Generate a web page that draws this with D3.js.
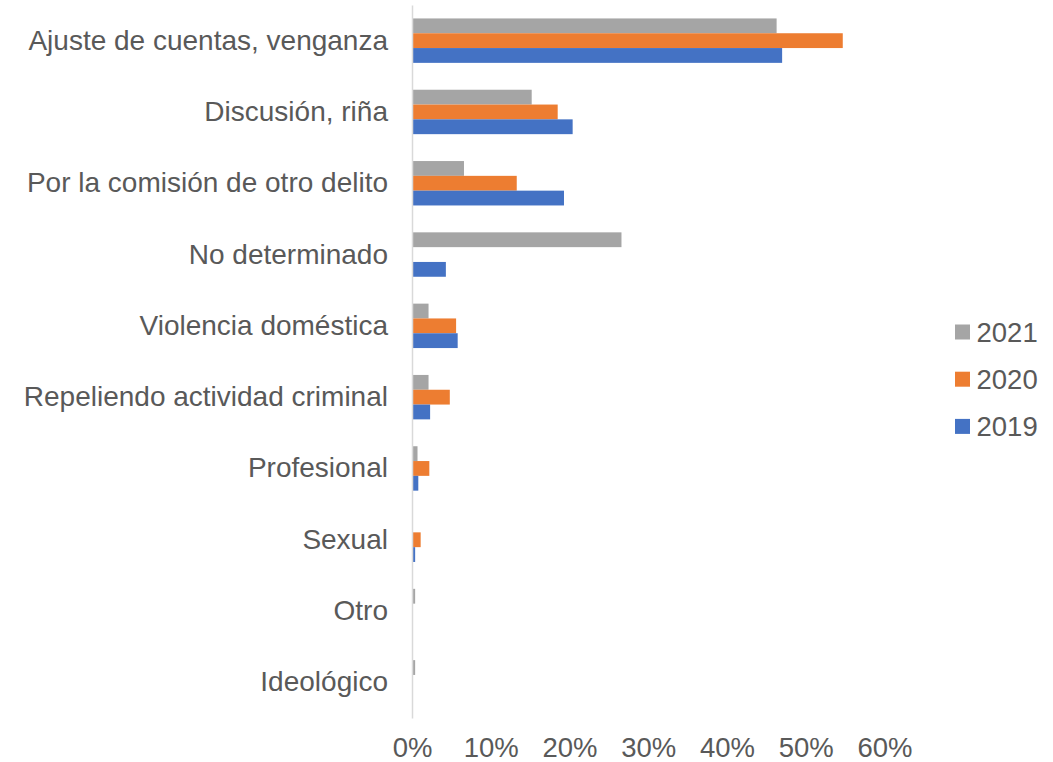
<!DOCTYPE html>
<html>
<head>
<meta charset="utf-8">
<script src="https://cdn.jsdelivr.net/npm/d3@7"></script>
<style>
  body { margin: 0; background: #fff; }
  text { font-family: "Liberation Sans", Arial, sans-serif; fill: #595959; }
</style>
</head>
<body>
<div id="chart"></div>
<script>
// Data (percent)
const categories = [
  "Ajuste de cuentas, venganza",
  "Discusión, riña",
  "Por la comisión de otro delito",
  "No determinado",
  "Violencia doméstica",
  "Repeliendo actividad criminal",
  "Profesional",
  "Sexual",
  "Otro",
  "Ideológico"
];
const years = ["2021", "2020", "2019"];
const values2021 = [46.3, 15.2, 6.6, 26.6, 2.1, 2.1, 0.7, 0, 0.4, 0.4];
const values2020 = [54.7, 18.5, 13.3, 0, 5.6, 4.8, 2.2, 1.1, 0, 0];
const values2019 = [47.0, 20.4, 19.3, 4.3, 5.8, 2.3, 0.8, 0.4, 0, 0];
const xTicks = [0, 10, 20, 30, 40, 50, 60];

const seriesValues = { "2021": values2021, "2020": values2020, "2019": values2019 };
const colors = { "2021": "#A5A5A5", "2020": "#ED7D31", "2019": "#4472C4" };

/*    Constants    */
const width = 1053;
const height = 762;
const fontSize = 27.5;

const svg = d3.select("#chart")
  .append("svg")
    .attr("width", width)
    .attr("height", height);

const xScale = d3.scaleLinear()
  .domain([0, 60])
  .range([412, 884.5]);

const yScale = d3.scaleBand()
  .domain(categories)
  .range([5, 718])
  .paddingInner(0.377)
  .paddingOuter(0.1885);

const subScale = d3.scaleBand()
  .domain(years)
  .range([0, yScale.bandwidth()]);

// bars
const groups = svg.selectAll("g.group")
  .data(categories)
  .join("g")
    .attr("class", "group")
    .attr("transform", d => `translate(0, ${yScale(d)})`);

groups.selectAll("rect")
  .data((d, i) => years.map(y => ({ year: y, value: seriesValues[y][i] })))
  .join("rect")
    .attr("x", xScale(0))
    .attr("y", d => subScale(d.year))
    .attr("width", d => xScale(d.value) - xScale(0))
    .attr("height", subScale.bandwidth())
    .attr("fill", d => colors[d.year]);

// y axis
const yAxis = d3.axisLeft(yScale)
  .tickSize(0)
  .tickPadding(24);

const yAxisG = svg.append("g")
  .attr("transform", `translate(${xScale(0)}, 0)`)
  .call(yAxis);
yAxisG.select(".domain")
  .attr("stroke", "#D9D9D9")
  .attr("stroke-width", 1.5);
yAxisG.selectAll("text")
  .attr("font-size", 28)
  .attr("font-family", "Liberation Sans, Arial, sans-serif")
  .attr("fill", "#595959");

// x axis (labels only)
const xAxis = d3.axisBottom(xScale)
  .tickValues(xTicks)
  .tickSize(0)
  .tickFormat(d => d + "%");

const xAxisG = svg.append("g")
  .attr("transform", "translate(0, 740)")
  .call(xAxis);
xAxisG.select(".domain").remove();
xAxisG.selectAll("text")
  .attr("y", 17)
  .attr("dy", 0)
  .attr("font-size", fontSize)
  .attr("font-family", "Liberation Sans, Arial, sans-serif")
  .attr("fill", "#595959");

// legend
const legend = svg.append("g")
  .attr("transform", "translate(955, 332)");

const legendItems = legend.selectAll("g")
  .data(years)
  .join("g")
    .attr("transform", (d, i) => `translate(0, ${i * 47.2})`);

legendItems.append("rect")
  .attr("x", 0)
  .attr("y", -7.5)
  .attr("width", 15)
  .attr("height", 15)
  .attr("fill", d => colors[d]);

legendItems.append("text")
  .attr("x", 21.5)
  .attr("y", 9.5)
  .attr("font-size", fontSize)
  .text(d => d);
</script>
</body>
</html>
